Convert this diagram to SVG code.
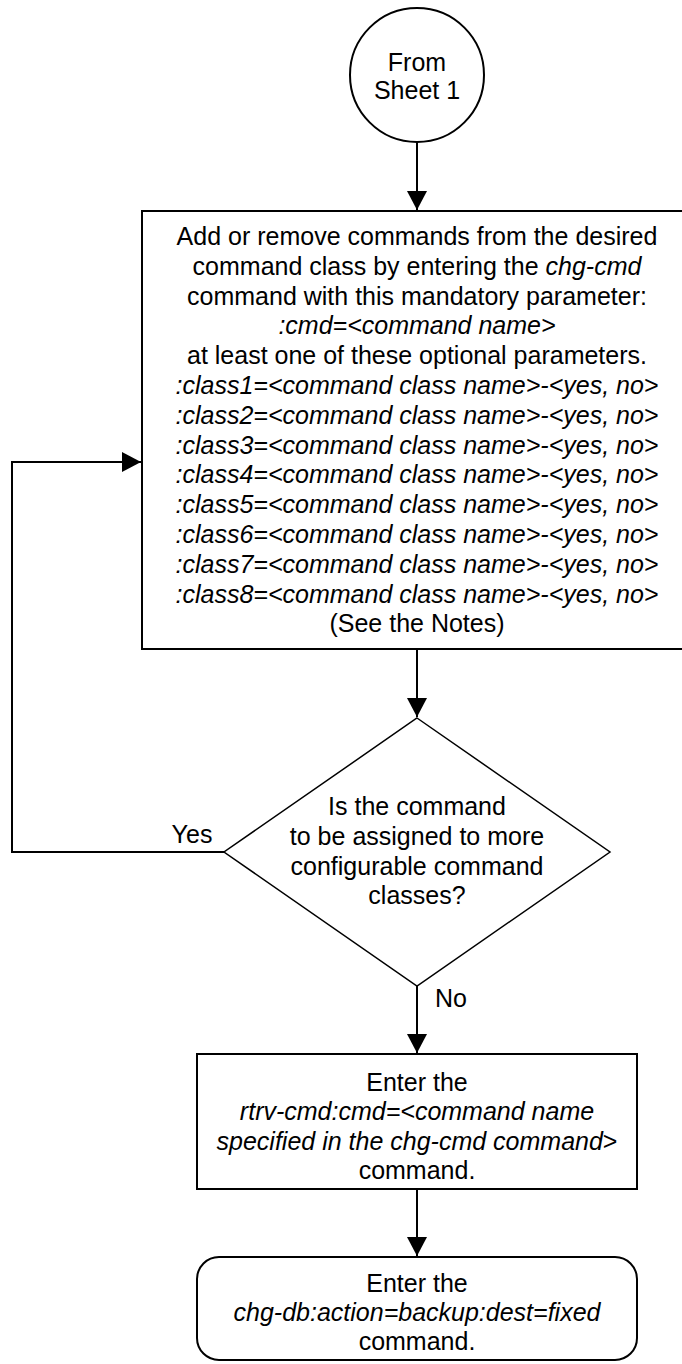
<svg xmlns="http://www.w3.org/2000/svg" width="682" height="1364" viewBox="0 0 682 1364">
<style>
.s{fill:#fff;stroke:#000;stroke-width:2}
.d{fill:#fff;stroke:#000;stroke-width:1.5}
.c{fill:none;stroke:#000;stroke-width:2}
text{font-family:"Liberation Sans",Arial,sans-serif;font-size:25px;fill:#000}
.m{text-anchor:middle}
.i{font-style:italic}
</style>
<defs>
<marker id="ah" markerUnits="userSpaceOnUse" markerWidth="20" markerHeight="20" refX="19" refY="10" orient="auto">
<path d="M0,0 L19,10 L0,20 z" fill="#000"/>
</marker>
</defs>
<rect width="682" height="1364" fill="#fff"/>
<g id="connectors">
<line class="c" x1="417" y1="142" x2="417" y2="210" marker-end="url(#ah)"/>
<line class="c" x1="417" y1="649" x2="417" y2="717" marker-end="url(#ah)"/>
<polyline class="c" points="224,852 12,852 12,462 141,462" marker-end="url(#ah)"/>
<line class="c" x1="417" y1="986" x2="417" y2="1053" marker-end="url(#ah)"/>
<line class="c" x1="417" y1="1189" x2="417" y2="1256" marker-end="url(#ah)"/>
<text x="192" y="843" class="m">Yes</text>
<text x="435" y="1007">No</text>
</g>
<g id="start">
<circle class="s" cx="417" cy="75" r="67"/>
<text x="417" y="71" class="m">From</text>
<text x="417" y="99" class="m">Sheet 1</text>
</g>
<g id="chgcmd">
<rect class="s" x="142" y="211" width="560" height="438"/>
<text class="m" x="417" y="245">Add or remove commands from the desired</text>
<text class="m" x="417" y="274.8">command class by entering the <tspan class="i">chg-cmd</tspan></text>
<text class="m" x="417" y="304.6">command with this mandatory parameter:</text>
<text class="m i" x="417" y="334.4">:cmd=&lt;command name&gt;</text>
<text class="m" x="417" y="364.2">at least one of these optional parameters.</text>
<text class="m i" x="417" y="394">:class1=&lt;command class name&gt;-&lt;yes, no&gt;</text>
<text class="m i" x="417" y="423.8">:class2=&lt;command class name&gt;-&lt;yes, no&gt;</text>
<text class="m i" x="417" y="453.6">:class3=&lt;command class name&gt;-&lt;yes, no&gt;</text>
<text class="m i" x="417" y="483.4">:class4=&lt;command class name&gt;-&lt;yes, no&gt;</text>
<text class="m i" x="417" y="513.2">:class5=&lt;command class name&gt;-&lt;yes, no&gt;</text>
<text class="m i" x="417" y="543">:class6=&lt;command class name&gt;-&lt;yes, no&gt;</text>
<text class="m i" x="417" y="572.8">:class7=&lt;command class name&gt;-&lt;yes, no&gt;</text>
<text class="m i" x="417" y="602.6">:class8=&lt;command class name&gt;-&lt;yes, no&gt;</text>
<text class="m" x="417" y="632.4">(See the Notes)</text>
</g>
<g id="decision">
<polygon class="d" points="417,718 610,852 417,986 224,852"/>
<text class="m" x="417" y="815">Is the command</text>
<text class="m" x="417" y="845">to be assigned to more</text>
<text class="m" x="417" y="875">configurable command</text>
<text class="m" x="417" y="904">classes?</text>
</g>
<g id="rtrvcmd">
<rect class="s" x="197" y="1054" width="440" height="135"/>
<text class="m" x="417" y="1091">Enter the</text>
<text class="m i" x="417" y="1120">rtrv-cmd:cmd=&lt;command name</text>
<text class="m" x="417" y="1150"><tspan class="i">specified in the chg-cmd command</tspan>&gt;</text>
<text class="m" x="417" y="1179">command.</text>
</g>
<g id="chgdb">
<rect class="s" x="197" y="1257" width="440" height="103" rx="22" ry="22"/>
<text class="m" x="417" y="1292">Enter the</text>
<text class="m i" x="417" y="1321">chg-db:action=backup:dest=fixed</text>
<text class="m" x="417" y="1350">command.</text>
</g>
</svg>
